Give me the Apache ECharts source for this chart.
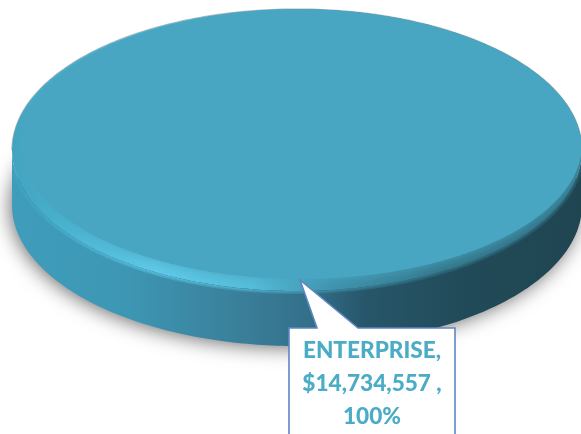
<!DOCTYPE html>
<html>
<head>
<meta charset="utf-8">
<style>html,body{margin:0;padding:0;background:#fff}#c{width:581px;height:434px}</style>
<script src="https://cdn.jsdelivr.net/npm/echarts@6/dist/echarts.min.js"></script>
</head>
<body>
<div id="c"></div>
<script>
var categories = ['ENTERPRISE'];
var values = [14734557];
var valueLabels = ['$14,734,557 '];

var total = values.reduce(function (a, b) { return a + b; }, 0);
var chart = echarts.init(document.getElementById('c'), null, { renderer: 'canvas' });

var CX = 297, CY = 150, RX = 285, RY = 141, DEPTH = 55;

function linear(stops) {
  return new echarts.graphic.LinearGradient(0, 0, 1, 0, stops.map(function (s) {
    return { offset: s[0], color: s[1] };
  }));
}
function arc(cx, cy, rx, ry, from, sweep) {
  var pts = [], n = Math.max(8, Math.round(360 * Math.abs(sweep) / (2 * Math.PI)));
  for (var i = 0; i <= n; i++) {
    var t = from + sweep * i / n;
    pts.push([cx + rx * Math.cos(t), cy + ry * Math.sin(t)]);
  }
  return pts;
}

function renderSlice(params, api) {
  var value = api.value(1);
  var sweep = 2 * Math.PI * value / total;
  var before = values.slice(0, params.dataIndex).reduce(function (a, b) { return a + b; }, 0);
  var start = -Math.PI / 2 + 2 * Math.PI * before / total;
  var top = arc(CX, CY, RX, RY, start, sweep);
  var inner = arc(CX + 4, CY - 6, RX - 4, RY - 6, start, sweep);
  var low = arc(CX, CY + DEPTH, RX - 1, RY - 1, start, sweep);
  var wall = arc(CX, CY, RX, RY, 0, Math.PI).concat(arc(CX, CY + DEPTH, RX, RY, Math.PI, -Math.PI));
  var rimFill = [[0, '#40A3C0'], [0.08, '#48B2CF'], [0.25, '#5FCBEA'], [0.42, '#55BEDB'], [0.56, '#3F92AB'], [0.75, '#33768A'], [1, '#2F6C80']];

  var children = [
    { type: 'polygon', shape: { points: low },
      style: { fill: '#2c5f72', shadowBlur: 20, shadowColor: 'rgba(0,0,0,0.6)', shadowOffsetX: -2, shadowOffsetY: 2 } },
    { type: 'polygon', shape: { points: wall },
      style: { fill: linear([[0, '#3E9DBB'], [0.2, '#3D97B4'], [0.4, '#3A7F9A'], [0.52, '#33708A'], [0.62, '#27566A'], [0.8, '#214A58'], [1, '#1F4551']]) } },
    { type: 'group',
      clipPath: { type: 'polygon', shape: { points: wall } },
      children: [
        { type: 'polygon', shape: { points: top }, style: { fill: 'none', stroke: linear(rimFill), lineWidth: 6, opacity: 0.35 } },
        { type: 'polygon', shape: { points: top }, style: { fill: 'none', stroke: linear(rimFill), lineWidth: 3, opacity: 0.5 } }
      ] },
    { type: 'polyline', shape: { points: arc(CX, CY, RX, RY, Math.PI, Math.PI) },
      style: { fill: 'none', stroke: 'rgba(70,70,70,0.4)', lineWidth: 1.2 } },
    { type: 'group',
      clipPath: { type: 'polygon', shape: { points: top } },
      children: [
        { type: 'polygon', shape: { points: top }, style: { fill: linear(rimFill) } },
        { type: 'polygon', shape: { points: inner },
          style: { fill: '#48A6C2', shadowBlur: 14, shadowColor: '#48A6C2' } }
      ] }
  ];

  var pct = Math.round(value / total * 100) + '%';
  var text = categories[params.dataIndex] + ',\n' + valueLabels[params.dataIndex] + ',\n' + pct;
  var boxL = 289, boxR = 455, boxT = 328, boxB = 445;
  children.push({
    type: 'polygon',
    shape: { points: [[boxL, boxT], [317, boxT], [300, 280], [358, boxT], [boxR, boxT], [boxR, boxB], [boxL, boxB]] },
    style: { fill: '#fff', stroke: '#5E86C3', lineWidth: 1.6 }
  });
  children.push({
    type: 'text',
    style: {
      x: 372, y: 334, text: text, align: 'center', verticalAlign: 'top',
      fill: '#4BACC6', font: '900 22.6px Lato, "Open Sans", sans-serif', lineHeight: 33
    }
  });
  return { type: 'group', children: children };
}

chart.setOption({
  animation: false,
  backgroundColor: '#ffffff',
  tooltip: { show: false },
  series: [{
    type: 'custom',
    coordinateSystem: 'none',
    silent: true,
    renderItem: renderSlice,
    data: categories.map(function (c, i) { return [c, values[i]]; })
  }]
});
</script>
</body>
</html>
